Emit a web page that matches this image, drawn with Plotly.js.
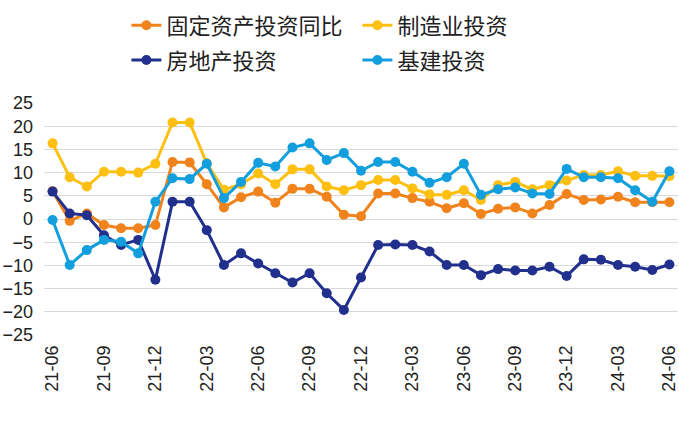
<!DOCTYPE html>
<html>
<head>
<meta charset="utf-8">
<script src="https://cdn.plot.ly/plotly-3.0.1.min.js"></script>
<style>html,body{margin:0;padding:0;background:#fff;}#chart{width:679px;height:424px;}</style>
</head>
<body>
<div id="chart"></div>
<script>
const months = ['21-06','21-07','21-08','21-09','21-10','21-11','21-12','22-01','22-02','22-03','22-04','22-05','22-06','22-07','22-08','22-09','22-10','22-11','22-12','23-01','23-02','23-03','23-04','23-05','23-06','23-07','23-08','23-09','23-10','23-11','23-12','24-01','24-02','24-03','24-04','24-05','24-06'];
const tickLabels = ['21-06','21-09','21-12','22-03','22-06','22-09','22-12','23-03','23-06','23-09','23-12','24-03','24-06'];
const seriesNames = ['固定资产投资同比','制造业投资','房地产投资','基建投资'];
const fai = [6.0,-0.4,1.2,-1.3,-2.0,-2.0,-1.3,12.3,12.2,7.5,2.5,4.7,5.9,3.5,6.5,6.5,4.8,0.9,0.6,5.5,5.5,4.5,3.7,2.3,3.4,1.1,2.2,2.5,1.2,3.0,5.4,4.1,4.2,4.8,3.6,3.6,3.6];
const manu = [16.3,9.0,7.0,10.2,10.2,10.0,11.9,20.8,20.8,12.0,6.3,7.5,9.8,7.5,10.7,10.7,7.0,6.2,7.3,8.4,8.4,6.6,5.3,5.2,6.2,4.1,7.3,8.0,6.4,7.3,8.3,9.5,9.5,10.3,9.3,9.3,9.2];
const realty = [5.9,1.2,0.8,-3.5,-5.6,-4.5,-13.1,3.7,3.7,-2.4,-9.9,-7.4,-9.6,-11.7,-13.7,-11.7,-16.0,-19.6,-12.6,-5.6,-5.5,-5.6,-7.0,-9.9,-9.9,-12.1,-10.8,-11.1,-11.1,-10.3,-12.3,-8.7,-8.8,-9.9,-10.3,-11.0,-9.8];
const infra = [-0.2,-9.9,-6.7,-4.5,-4.9,-7.4,3.7,8.8,8.6,11.9,4.5,8.0,12.1,11.3,15.4,16.3,12.7,14.2,10.4,12.3,12.3,10.2,7.8,9.0,11.9,5.2,6.4,6.8,5.5,5.4,10.8,9.0,9.0,8.8,6.2,3.7,10.3];
const colors = ['#F0831C','#FDBF10','#21308C','#139FDD'];
const allSeries = [fai, manu, realty, infra];
const legendRow = ['legend','legend','legend2','legend2'];

const traces = allSeries.map((vals, k) => ({
  type: 'scatter', mode: 'lines+markers',
  x: months, y: vals, name: seriesNames[k],
  legend: legendRow[k],
  line: {color: colors[k], width: 3},
  marker: {color: colors[k], size: 10},
  hoverinfo: 'x+y+name'
}));

const legendBase = {
  orientation: 'h', xanchor: 'left', yanchor: 'top',
  font: {family: '"Noto Sans CJK SC", sans-serif', size: 22, color: '#222'},
  entrywidth: 186, entrywidthmode: 'pixels',
  bgcolor: 'rgba(0,0,0,0)', traceorder: 'normal'
};

const layout = {
  width: 679, height: 424,
  margin: {l: 44, r: 1, t: 103, b: 89},
  paper_bgcolor: '#fff', plot_bgcolor: '#fff',
  font: {family: '"Liberation Sans", Arial, "Noto Sans CJK SC", sans-serif', size: 18, color: '#222'},
  showlegend: true,
  legend: Object.assign({}, legendBase, {x: 0.13, y: 1.425}),
  legend2: Object.assign({}, legendBase, {x: 0.13, y: 1.275}),
  xaxis: {
    type: 'category', range: [-0.5, 36.5],
    tickmode: 'array', tickvals: tickLabels, ticktext: tickLabels,
    tickangle: -90, showgrid: false, zeroline: false, showline: false,
    ticks: '', ticklabelstandoff: 6,
    tickfont: {family: '"Liberation Sans", Arial, sans-serif', size: 18, color: '#222'}
  },
  yaxis: {
    range: [-25, 25], tickmode: 'linear', tick0: -25, dtick: 5,
    showgrid: true, gridcolor: '#D9D9D9', gridwidth: 1,
    zeroline: false, showline: false, ticks: '', ticklabelstandoff: 10,
    tickfont: {family: '"Liberation Sans", Arial, sans-serif', size: 18, color: '#222'}
  }
};

Plotly.newPlot('chart', traces, layout, {displayModeBar: false, staticPlot: true});
</script>
</body>
</html>
